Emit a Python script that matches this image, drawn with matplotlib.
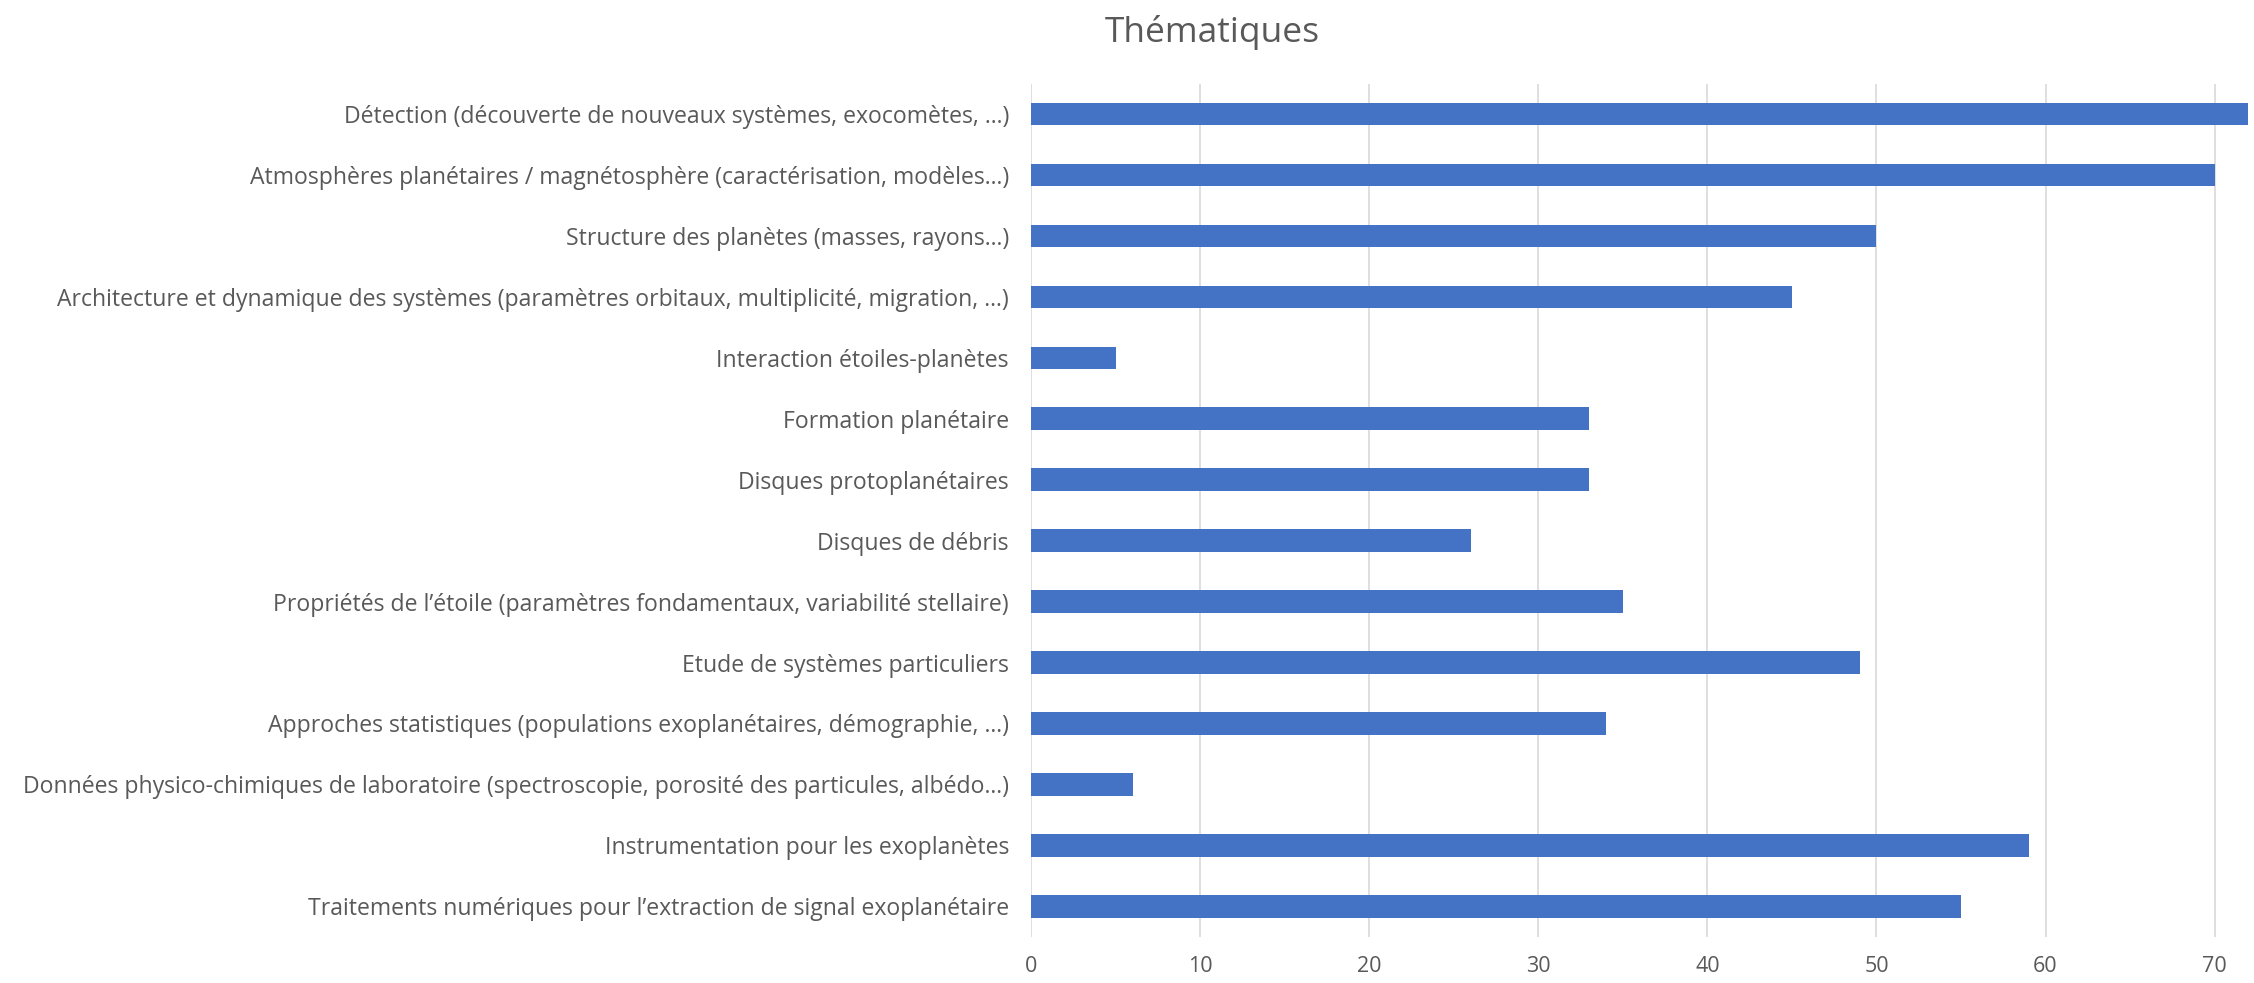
import matplotlib
matplotlib.use("Agg")
import matplotlib.pyplot as plt

categories = [
    "Détection (découverte de nouveaux systèmes, exocomètes, ...)",
    "Atmosphères planétaires / magnétosphère (caractérisation, modèles...)",
    "Structure des planètes (masses, rayons...)",
    "Architecture et dynamique des systèmes (paramètres orbitaux, multiplicité, migration, ...)",
    "Interaction étoiles-planètes",
    "Formation planétaire",
    "Disques protoplanétaires",
    "Disques de débris",
    "Propriétés de l’étoile (paramètres fondamentaux, variabilité stellaire)",
    "Etude de systèmes particuliers",
    "Approches statistiques (populations exoplanétaires, démographie, ...)",
    "Données physico-chimiques de laboratoire (spectroscopie, porosité des particules, albédo...)",
    "Instrumentation pour les exoplanètes",
    "Traitements numériques pour l’extraction de signal exoplanétaire",
]
counts = [72, 70, 50, 45, 5, 33, 33, 26, 35, 49, 34, 6, 59, 55]
x_ticks = [0, 10, 20, 30, 40, 50, 60, 70]

plt.rcParams['font.family'] = ['Open Sans', 'DejaVu Sans']
text_color = '#595959'

fig = plt.figure(figsize=(22.54, 9.83), dpi=100)
ax = fig.add_axes([0.4575, 0.047, 0.5415, 0.868])

y = list(range(len(categories)))
ax.barh(y, counts, height=0.37, color='#4472C4', zorder=3)
ax.set_yticks(y)
ax.set_yticklabels(categories, fontsize=16.6, color=text_color)
ax.set_ylim(len(categories) - 0.5, -0.5)

ax.set_xlim(0, 72.2)
ax.set_xticks(x_ticks)
ax.set_xticklabels([str(t) for t in x_ticks], fontsize=15.5, color=text_color)
ax.grid(axis='x', color='#D9D9D9', linewidth=1.2, zorder=0)
ax.tick_params(axis='both', length=0)
ax.tick_params(axis='x', pad=14)
ax.tick_params(axis='y', pad=16)
for s in ax.spines.values():
    s.set_visible(False)

fig.suptitle("Thématiques", x=0.538, y=0.985, fontsize=25.5, color=text_color)

fig.savefig("out.png", dpi=100)
